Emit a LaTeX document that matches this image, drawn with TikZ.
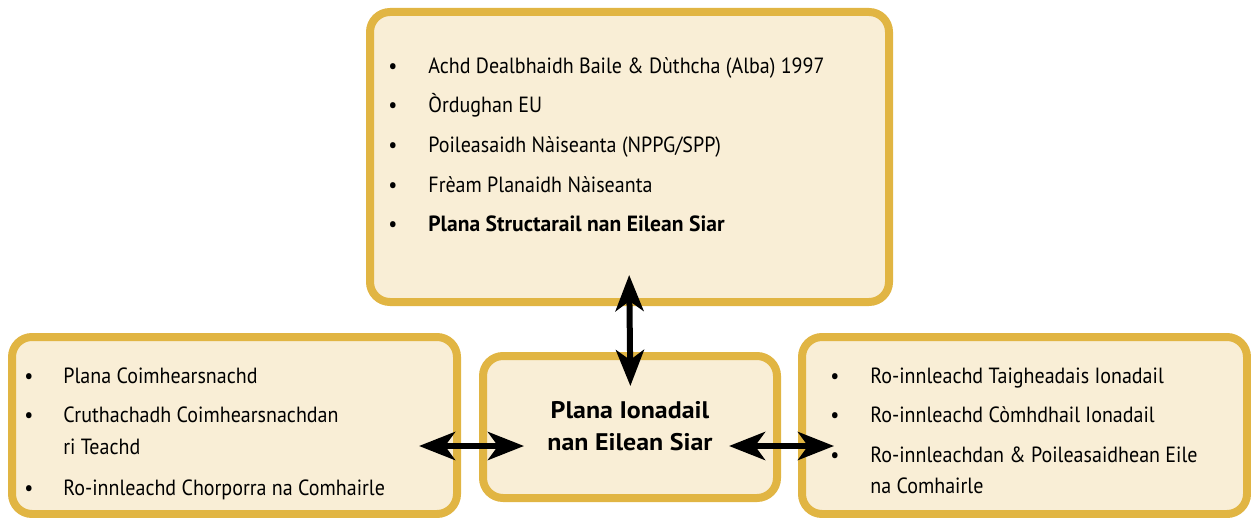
\documentclass[tikz,border=0pt]{standalone}
\usepackage{fontspec}
\setmainfont[FakeStretch=0.91, BoldFeatures={FakeStretch=0.98}]{PT Sans}
\newfontfamily\headfont[FakeStretch=1.08]{PT Sans Bold}
\usetikzlibrary{arrows.meta}

\definecolor{goldline}{RGB}{225,181,67}
\definecolor{cream}{RGB}{249,238,214}

\tikzset{
	panel/.style={draw=goldline, fill=cream, line width=4pt, rounded corners=10pt},
	item/.style={anchor=base west, inner sep=0pt, font=\fontsize{11}{13}\selectfont},
	dot/.style={anchor=base, inner sep=0pt, font=\fontsize{11}{13}\selectfont},
	title/.style={anchor=base, inner sep=0pt, font=\fontsize{12}{14}\headfont},
	link/.style={line width=3pt, {Stealth[length=18pt,width=14pt,inset=5pt]}-{Stealth[length=18pt,width=14pt,inset=5pt]}}
}

\begin{document}
\begin{tikzpicture}[x=0.5pt,y=-0.5pt]
		\useasboundingbox (0,0) rectangle (1251,518);
		% the four boxes
		\node[panel, minimum width=259.5pt, minimum height=145pt] (top) at (629.5,157) {};
		\node[panel, minimum width=222.5pt, minimum height=88.5pt] (left) at (234.5,425.5) {};
		\node[panel, minimum width=147pt, minimum height=71pt] (mid) at (630,427) {};
		\node[panel, minimum width=222.5pt, minimum height=88.5pt] (right) at (1024.5,425.5) {};
		% top box
		\foreach \y in {74,113,153,192,232} \node[dot] at (393,\y) {•};
		\node[item] (t1) at (428,74) {Achd Dealbhaidh Baile \& Dùthcha (Alba) 1997};
		\node[item] (t2) at (428,113) {Òrdughan EU};
		\node[item] (t3) at (428,153) {Poileasaidh Nàiseanta (NPPG/SPP)};
		\node[item] (t4) at (428,192) {Frèam Planaidh Nàiseanta};
		\node[item, font=\fontsize{11}{13}\selectfont\bfseries] (t5) at (428,232) {Plana Structarail nan Eilean Siar};
		% left box
		\foreach \y in {383,422,495} \node[dot] at (29,\y) {•};
		\node[item] (l1) at (63,383) {Plana Coimhearsnachd};
		\node[item] (l2) at (63,422) {Cruthachadh Coimhearsnachdan};
		\node[item] (l2b) at (63,454) {ri Teachd};
		\node[item] (l3) at (63,495) {Ro-innleachd Chorporra na Comhairle};
		% right box
		\foreach \y in {383,422,462} \node[dot] at (835,\y) {•};
		\node[item] (r1) at (870,383) {Ro-innleachd Taigheadais Ionadail};
		\node[item] (r2) at (870,422) {Ro-innleachd Còmhdhail Ionadail};
		\node[item] (r3) at (870,462) {Ro-innleachdan \& Poileasaidhean Eile};
		\node[item] (r3b) at (870,493) {na Comhairle};
		% middle box
		\node[title] (m1) at (630,418) {Plana Ionadail};
		\node[title] (m2) at (630,450) {nan Eilean Siar};
		% connectors
		\draw[link, shorten <=-15.5pt, shorten >=-17pt] (top.south) -- (mid.north);
		\draw[link, shorten <=-21pt, shorten >=-22.5pt] ([yshift=-10.25pt]left.east) -- ([yshift=-9.5pt]mid.west);
		\draw[link, shorten <=-26pt, shorten >=-18pt] ([yshift=-9.5pt]mid.east) -- ([yshift=-10.25pt]right.west);
	\end{tikzpicture}
\end{document}
